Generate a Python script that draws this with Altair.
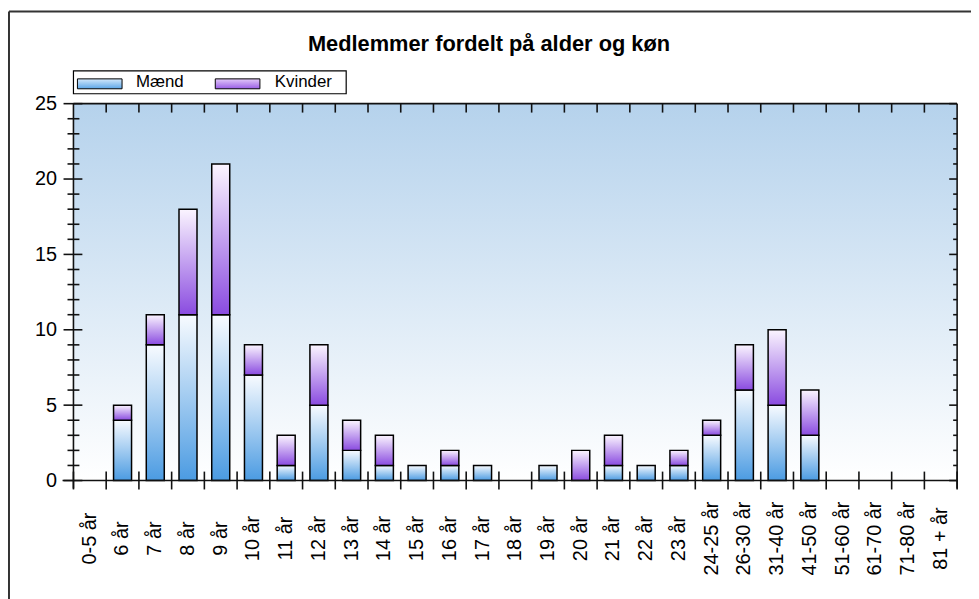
import altair as alt
import pandas as pd

# ---------------- data ----------------
categories = ["0-5 år", "6 år", "7 år", "8 år", "9 år", "10 år", "11 år", "12 år",
              "13 år", "14 år", "15 år", "16 år", "17 år", "18 år", "19 år", "20 år",
              "21 år", "22 år", "23 år", "24-25 år", "26-30 år", "31-40 år",
              "41-50 år", "51-60 år", "61-70 år", "71-80 år", "81 + år"]
maend = [0, 4, 9, 11, 11, 7, 1, 5, 2, 1, 1, 1, 1, 0, 1, 0, 1, 1, 1, 3, 6, 5, 3, 0, 0, 0, 0]
kvinder = [0, 1, 2, 7, 10, 2, 2, 4, 2, 2, 0, 1, 0, 0, 0, 2, 2, 0, 1, 1, 3, 5, 3, 0, 0, 0, 0]
series = ["Mænd", "Kvinder"]
title_text = "Medlemmer fordelt på alder og køn"
y_ticks_major = [0, 5, 10, 15, 20, 25]
y_ticks_all = list(range(0, 26))
y_max = 25

# ---------------- layout ----------------
W, H = 891, 380
FONT = "Liberation Sans"
AX = "#111111"

df = pd.DataFrame({"cat": categories, "m": maend, "k": kvinder})
df["t"] = df["m"] + df["k"]
bounds = pd.DataFrame({"b": list(range(len(categories) + 1))})
yt_major = pd.DataFrame({"v": y_ticks_major})
yt_minor = pd.DataFrame({"v": [v for v in y_ticks_all if v not in y_ticks_major]})
one = pd.DataFrame({"a": [0]})


def grad(c0, c1):
    return alt.Gradient(gradient="linear", x1=0, y1=0, x2=0, y2=1,
                        stops=[alt.GradientStop(offset=0, color=c0),
                               alt.GradientStop(offset=1, color=c1)])


g_bg = grad("#b5d2ec", "#ffffff")
g_m = grad("#f8fbff", "#4b9be2")
g_k = grad("#fbf5ff", "#8a4be0")
g_m_leg = grad("#d4e9fc", "#5ca6e8")
g_k_leg = grad("#e2c9f8", "#9a5ee6")

xscale = alt.Scale(domain=categories, paddingInner=0.45, paddingOuter=0.225)
xaxis = alt.Axis(title=None, labelAngle=270, labelAlign="center", labelBaseline="middle",
                 labelPadding=58, ticks=False, domain=False, grid=False,
                 labelFont=FONT, labelFontSize=20, labelColor="#000000",
                 labelOverlap=False, labelLimit=300)
yscale = alt.Scale(domain=[0, y_max], nice=False, zero=True)
yaxis = alt.Axis(title=None, values=y_ticks_major, ticks=False, domain=False, grid=False,
                 labelPadding=17, labelFont=FONT, labelFontSize=20, labelColor="#000000",
                 format="d")

xenc = alt.X("cat:N", sort=categories, scale=xscale, axis=xaxis)

bg = alt.Chart(one).mark_rect(fill=g_bg).encode(
    x=alt.value(0), x2=alt.value(W), y=alt.value(0), y2=alt.value(H))

bars_m = alt.Chart(df).transform_filter("datum.m > 0").mark_bar(
    fill=g_m, stroke="#000000", strokeWidth=1.5).encode(
    x=xenc, y=alt.Y("m:Q", scale=yscale, axis=yaxis))
bars_k = alt.Chart(df).transform_filter("datum.k > 0").mark_bar(
    fill=g_k, stroke="#000000", strokeWidth=1.5).encode(
    x=xenc, y=alt.Y("m:Q", scale=yscale, axis=yaxis), y2="t:Q")
bars = alt.layer(bars_m, bars_k)

bx = alt.X("b:Q", scale=alt.Scale(domain=[0, len(categories)], nice=False, zero=True), axis=None)
yv = alt.Y("v:Q", scale=yscale, axis=yaxis)

# axis lines
ax_left = alt.Chart(one).mark_rule(color=AX, strokeWidth=1.6).encode(
    x=alt.value(0), y=alt.value(0), y2=alt.value(H + 8))
ax_right = alt.Chart(one).mark_rule(color=AX, strokeWidth=1.6).encode(
    x=alt.value(W), y=alt.value(0), y2=alt.value(H + 8))
ax_bottom = alt.Chart(one).mark_rule(color=AX, strokeWidth=1.6).encode(
    x=alt.value(-11), x2=alt.value(W), y=alt.value(H))
ax_top = alt.Chart(one).mark_rule(color=AX, strokeWidth=1.6).encode(
    x=alt.value(0), x2=alt.value(W), y=alt.value(0))

# category boundary ticks
tick_bottom = alt.Chart(bounds).mark_rule(color=AX, strokeWidth=1.6).encode(
    x=bx, y=alt.value(H - 9), y2=alt.value(H + 9))
tick_top = alt.Chart(bounds).transform_filter(
    f"datum.b > 0 && datum.b < {len(categories)}").mark_rule(color=AX, strokeWidth=1.6).encode(
    x=bx, y=alt.value(0), y2=alt.value(9))

# y ticks
ytl_major = alt.Chart(yt_major).mark_rule(color=AX, strokeWidth=1.6).encode(
    y=yv, x=alt.value(-10), x2=alt.value(9))
ytl_minor = alt.Chart(yt_minor).mark_rule(color=AX, strokeWidth=1.6).encode(
    y=yv, x=alt.value(-6), x2=alt.value(6))
ytr_major = alt.Chart(yt_major).mark_rule(color=AX, strokeWidth=1.6).encode(
    y=yv, x=alt.value(W - 8), x2=alt.value(W))
ytr_minor = alt.Chart(yt_minor).mark_rule(color=AX, strokeWidth=1.6).encode(
    y=yv, x=alt.value(W - 4), x2=alt.value(W))

# legend
leg_box = alt.Chart(one).mark_rect(fill="#ffffff", stroke="#000000", strokeWidth=1.2).encode(
    x=alt.value(0), x2=alt.value(275), y=alt.value(-33), y2=alt.value(-10))
leg_sw_m = alt.Chart(one).mark_rect(fill=g_m_leg, stroke="#000000", strokeWidth=1).encode(
    x=alt.value(4), x2=alt.value(49), y=alt.value(-25), y2=alt.value(-15))
leg_sw_k = alt.Chart(one).mark_rect(fill=g_k_leg, stroke="#000000", strokeWidth=1).encode(
    x=alt.value(143), x2=alt.value(188), y=alt.value(-25), y2=alt.value(-15))
leg_t_m = alt.Chart(one).mark_text(text=series[0], align="left", baseline="middle",
                                   font=FONT, fontSize=17, color="#000000").encode(
    x=alt.value(63), y=alt.value(-22))
leg_t_k = alt.Chart(one).mark_text(text=series[1], align="left", baseline="middle",
                                   font=FONT, fontSize=17, color="#000000").encode(
    x=alt.value(203), y=alt.value(-22))

title = alt.Chart(one).mark_text(text=title_text, align="center", baseline="middle",
                                 font=FONT, fontSize=22, fontWeight="bold",
                                 color="#000000").encode(
    x=alt.value(419), y=alt.value(-60))

# outer frame
frame_left = alt.Chart(one).mark_rule(color="#333333", strokeWidth=2).encode(
    x=alt.value(-65), y=alt.value(-93), y2=alt.value(500))
frame_top = alt.Chart(one).mark_rule(color="#333333", strokeWidth=2).encode(
    x=alt.value(-65), x2=alt.value(910), y=alt.value(-93))

chart = alt.layer(
    bg, bars,
    ax_left, ax_right, ax_bottom, ax_top,
    tick_bottom, tick_top,
    ytl_major, ytl_minor, ytr_major, ytr_minor,
    leg_box, leg_sw_m, leg_sw_k, leg_t_m, leg_t_k,
    title, frame_left, frame_top,
).resolve_scale(x="independent").properties(
    width=W, height=H,
    padding={"left": 66, "top": 94, "right": 14, "bottom": 117},
    autosize=alt.AutoSizeParams(type="none"),
    background="#ffffff",
).configure_view(stroke=None)

chart.save("out.html", embed_options={"renderer": "svg", "actions": False})
